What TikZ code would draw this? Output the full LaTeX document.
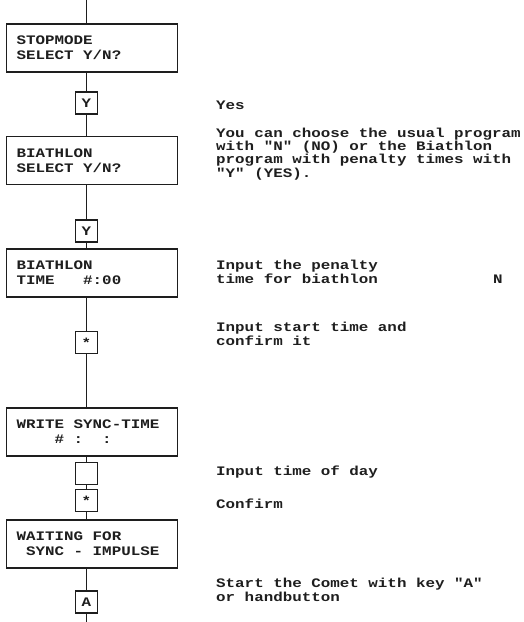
\documentclass[tikz,border=0pt]{standalone}
\usepackage{fontspec}
\setmonofont[FakeStretch=1.22]{Liberation Mono}
\usetikzlibrary{positioning}
\definecolor{paper}{HTML}{FFFFFF}
\definecolor{ink}{HTML}{1E1E1E}
\newcommand{\WireX}{86.5}
\newcommand{\PanelX}{6}
\newcommand{\NoteX}{216}
\newcommand{\Blank}{\phantom{0}}

\begin{document}
\begin{tikzpicture}[
    x=1pt, y=-1pt,
    font=\ttfamily\bfseries\fontsize{13}{12}\selectfont, ink,
    wire/.style={draw=ink, line width=1.1pt},
    panel/.style={draw=ink, line width=1.2pt, fill=paper, anchor=west, minimum width=171pt, minimum height=48pt, text width=151pt, inner xsep=10pt, align=left, font=\ttfamily\bfseries\fontsize{13}{15}\selectfont},
    keybox/.style={draw=ink, line width=1.1pt, fill=paper, minimum size=22pt, inner sep=0pt},
    note/.style={anchor=base west, inner sep=0pt, align=left},
  ]
\useasboundingbox (0,0) rectangle (523,622);

% --- Display panels ------------------------------------------------------------
\node[panel] (stop) at (\PanelX, 48) {STOPMODE\\SELECT\Blank Y/N?};
\node[panel] (bisel) at (\PanelX, 160.5) {BIATHLON\\SELECT\Blank Y/N?};
\node[panel] (bitime) at (\PanelX, 273) {BIATHLON\\TIME\Blank\Blank\Blank\#:00};
\node[panel] (sync) at (\PanelX, 432) {WRITE\Blank SYNC-TIME\\\Blank\Blank\Blank\Blank\#\Blank:\Blank\Blank:};
\node[panel] (wait) at (\PanelX, 544) {WAITING\Blank FOR\\\Blank SYNC\Blank-\Blank IMPULSE};

% --- Keys pressed between the panels -------------------------------------------
\foreach \name/\y/\lbl in {yes1/103/Y, yes2/231/Y, star1/342.5/*, clock/473.5/{}, star2/500.5/*, go/602/A}
  \node[keybox] (\name) at (\WireX, \y) {\lbl};

% --- The wire running through everything ---------------------------------------
\coordinate (top) at (\WireX, 0);
\coordinate (bottom) at (\WireX, 622);
\draw[wire] (top) -- (stop.north -| top);
\foreach \from/\to in {stop/yes1, yes1/bisel, bisel/yes2, yes2/bitime, bitime/star1, star1/sync, sync/clock, clock/star2, star2/wait, wait/go}
  \draw[wire] (\from.south -| top) -- (\to.north -| top);
\draw[wire] (go.south) -- (bottom);

% --- Notes on the right (placed by the baseline of their last line) ------------
\node[note] (yesnote) at (\NoteX, 109) {Yes};
\node[note] (choose) at (\NoteX, 177) {You can choose the usual program\\with "N" (NO) or the Biathlon\\program with penalty times with\\"Y" (YES).};
\node[note] (penalty) at (\NoteX, 283) {Input the penalty\\time for biathlon};
\node[note] (nflag) at (493, 283) {N};
\node[note] (start) at (\NoteX, 345) {Input start time and\\confirm it};
\node[note] (tod) at (\NoteX, 475) {Input time of day};
\node[note] (confirm) at (\NoteX, 508) {Confirm};
\node[note] (comet) at (\NoteX, 601) {Start the Comet with key "A"\\or handbutton};

\end{tikzpicture}
\end{document}
